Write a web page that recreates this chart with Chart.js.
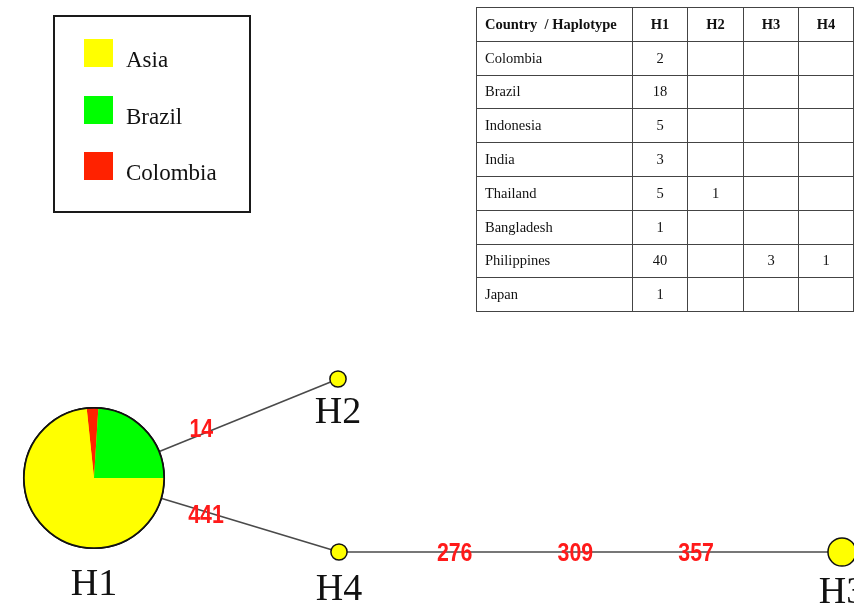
<!DOCTYPE html>
<html><head><meta charset="utf-8">
<script src="https://cdn.jsdelivr.net/npm/chart.js@4"></script>
<style>
html,body{margin:0;padding:0;background:#fff;}
#wrap{position:relative;width:854px;height:608px;overflow:hidden;background:#fff;}
#chart{position:absolute;left:0;top:0;}
#legend{position:absolute;left:53px;top:15px;width:194px;height:194px;border:2px solid #1a1a1a;}
.sw{position:absolute;left:29px;width:29px;height:28px;}
.lt{position:absolute;left:71px;font-family:"Liberation Serif","Times New Roman",serif;font-size:23px;line-height:23px;color:#111;white-space:nowrap;}
#tbl{position:absolute;left:476px;top:7px;border-collapse:collapse;table-layout:fixed;font-family:"Liberation Serif","Times New Roman",serif;font-size:14.5px;color:#111;}
#tbl td,#tbl th{border:1px solid #444;padding:0;vertical-align:middle;}
#tbl tr{height:33.8px;}
#tbl th{font-weight:bold;text-align:center;}
#tbl th.first{text-align:left;padding-left:8px;}
#tbl td{text-align:center;}
#tbl td.first{text-align:left;padding-left:8px;}
</style>
</head><body>
<div id="wrap">
<canvas id="chart" width="854" height="608"></canvas>
<div id="legend"></div>
<table id="tbl"></table>
</div>
<script>
// ---------- data ----------
const countries = ['Colombia','Brazil','Indonesia','India','Thailand','Bangladesh','Philippines','Japan'];
const countryRegion = ['Colombia','Brazil','Asia','Asia','Asia','Asia','Asia','Asia'];
const haplotypes = ['H1','H2','H3','H4'];
const countsH1 = [2,18,5,3,5,1,40,1];
const countsH2 = [0,0,0,0,1,0,0,0];
const countsH3 = [0,0,0,0,0,0,3,0];
const countsH4 = [0,0,0,0,0,0,1,0];
const regions = ['Asia','Brazil','Colombia'];
// network layout (node positions in layout units)
const nodeX = [94,338,842,339];
const nodeY = [478,379,552,552];
const edgeFrom = [0,0,3];
const edgeTo   = [1,3,2];
const mutationLabels = ['14','441','276','309','357'];
const mutationEdge   = [0,1,2,2,2];

// ---------- style / placement ----------
const regionColors = {Asia:'#ffff00', Brazil:'#00ff00', Colombia:'#ff2200'};
const pieOrder = ['Colombia','Brazil','Asia'];
const pieStartDeg = -6;
const radiusPerSqrt = 8.1;
const mutationT  = [0.44,0.457,0.23,0.47,0.71];
const mutationDy = [-6,3,1,1,1];
const nodeLabelBaselineDy = [117,44,51,48];

const countsByHap = [countsH1,countsH2,countsH3,countsH4];

// legend
const lg = document.getElementById('legend');
const swTops = [22,79,135];
regions.forEach((r,i)=>{
  const s=document.createElement('div');s.className='sw';s.style.top=swTops[i]+'px';s.style.background=regionColors[r];lg.appendChild(s);
  const t=document.createElement('div');t.className='lt';t.style.top=(swTops[i]+9)+'px';t.textContent=r;lg.appendChild(t);
});

// table
const tbl=document.getElementById('tbl');
const cg=document.createElement('colgroup');
[156,55,56,55,55].forEach(w=>{const c=document.createElement('col');c.style.width=w+'px';cg.appendChild(c);});
tbl.appendChild(cg);
const hr=document.createElement('tr');
['Country\u00a0 / Haplotype',...haplotypes].forEach((h,i)=>{const th=document.createElement('th');th.textContent=h;if(i===0)th.className='first';hr.appendChild(th);});
tbl.appendChild(hr);
countries.forEach((c,ci)=>{
  const tr=document.createElement('tr');
  const td=document.createElement('td');td.className='first';td.textContent=c;tr.appendChild(td);
  countsByHap.forEach(arr=>{const d=document.createElement('td');d.textContent=arr[ci]?String(arr[ci]):'';tr.appendChild(d);});
  tbl.appendChild(tr);
});

// composition per haplotype by region
const composition = countsByHap.map(arr=>{
  const o={};regions.forEach(r=>o[r]=0);
  arr.forEach((v,i)=>{o[countryRegion[i]]+=v;});
  return o;
});
const totals = countsByHap.map(arr=>arr.reduce((a,b)=>a+b,0));
const radii = totals.map(t=>radiusPerSqrt*Math.sqrt(t));

const edgeDatasets = edgeFrom.map((f,i)=>({
  type:'scatter',
  data:[{x:nodeX[f],y:nodeY[f]},{x:nodeX[edgeTo[i]],y:nodeY[edgeTo[i]]}],
  showLine:true,borderColor:'#4a4a4a',borderWidth:1.6,pointRadius:0,order:2,clip:false
}));
const nodeDataset = {
  type:'scatter',
  data:haplotypes.map((h,i)=>({x:nodeX[i],y:nodeY[i]})),
  pointRadius:radii,pointHoverRadius:radii,
  pointBackgroundColor:'#ffff00',pointBorderColor:'#111',pointBorderWidth:1.5,order:1,clip:false
};

const piePlugin={
  id:'pies',
  afterDatasetsDraw(chart){
    const ctx=chart.ctx, xs=chart.scales.x, ys=chart.scales.y;
    haplotypes.forEach((h,i)=>{
      const comp=composition[i], tot=totals[i];
      const nz=regions.filter(r=>comp[r]>0);
      if(nz.length<2)return;
      const cx=xs.getPixelForValue(nodeX[i]), cy=ys.getPixelForValue(nodeY[i]);
      const r=radii[i];
      let a=(pieStartDeg-90)*Math.PI/180;
      pieOrder.forEach(reg=>{
        const span=comp[reg]/tot*Math.PI*2;
        if(span<=0)return;
        ctx.beginPath();ctx.moveTo(cx,cy);ctx.arc(cx,cy,r,a,a+span);ctx.closePath();
        ctx.fillStyle=regionColors[reg];ctx.fill();
        a+=span;
      });
      ctx.beginPath();ctx.arc(cx,cy,r,0,Math.PI*2);ctx.lineWidth=1.8;ctx.strokeStyle='#111';ctx.stroke();
    });
  }
};
const labelPlugin={
  id:'labels',
  afterDraw(chart){
    const ctx=chart.ctx, xs=chart.scales.x, ys=chart.scales.y;
    ctx.save();
    ctx.fillStyle='#111';ctx.font='38px "Liberation Serif", "Times New Roman", serif';
    ctx.textAlign='center';ctx.textBaseline='alphabetic';
    haplotypes.forEach((h,i)=>{
      ctx.fillText(h, xs.getPixelForValue(nodeX[i]), ys.getPixelForValue(nodeY[i])+nodeLabelBaselineDy[i]);
    });
    ctx.fillStyle='#ff1a1a';ctx.font='bold 26px "Liberation Sans", Arial, sans-serif';ctx.textBaseline='middle';
    mutationLabels.forEach((m,k)=>{
      const e=mutationEdge[k], t=mutationT[k];
      const x0=xs.getPixelForValue(nodeX[edgeFrom[e]]), y0=ys.getPixelForValue(nodeY[edgeFrom[e]]);
      const x1=xs.getPixelForValue(nodeX[edgeTo[e]]), y1=ys.getPixelForValue(nodeY[edgeTo[e]]);
      const x=x0+(x1-x0)*t, y=y0+(y1-y0)*t+mutationDy[k];
      ctx.save();ctx.translate(x,y);ctx.scale(0.82,1);ctx.fillText(m,0,1);ctx.restore();
    });
    ctx.restore();
  }
};

new Chart(document.getElementById('chart'),{
  type:'scatter',
  data:{datasets:[nodeDataset,...edgeDatasets]},
  options:{
    responsive:false,animation:false,
    layout:{padding:0,autoPadding:false},
    plugins:{legend:{display:false},tooltip:{enabled:false}},
    scales:{
      x:{type:'linear',min:0,max:854,display:false},
      y:{type:'linear',min:0,max:608,reverse:true,display:false}
    }
  },
  plugins:[piePlugin,labelPlugin]
});
</script>
</body></html>
